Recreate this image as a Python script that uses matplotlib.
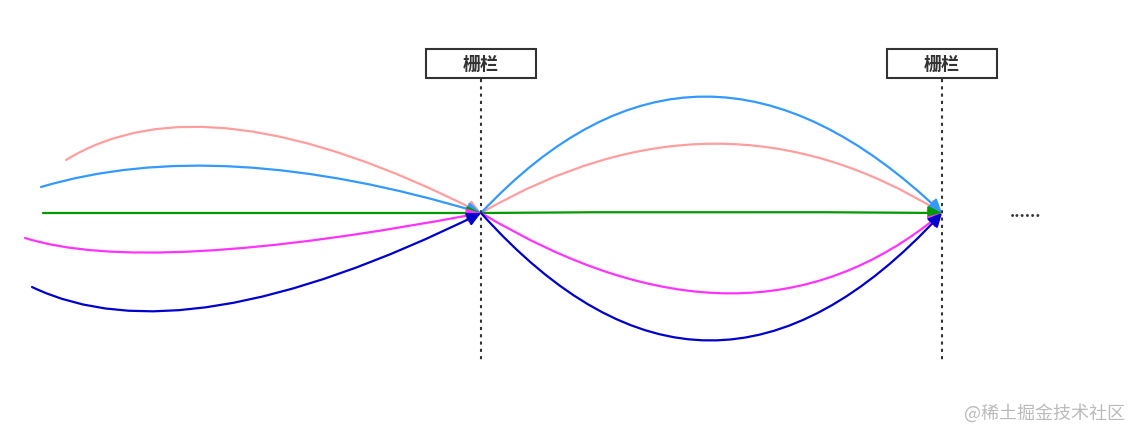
import matplotlib
matplotlib.use("Agg")
import matplotlib.pyplot as plt
from matplotlib.patches import FancyArrowPatch, Rectangle
from matplotlib.path import Path

plt.rcParams['font.family'] = ['Noto Sans CJK SC', 'DejaVu Sans']

barrier_x = [481, 942]
barrier_label = "栅栏"
colors = ['#ff9e9e', '#3399ff', '#009900', '#ff33ff', '#0000cc']
# left segment: start point and apex (curve point at t=0.5)
left_start = [(66, 160), (41, 187), (43, 213), (25, 238), (32, 287)]
left_mid = [(240, 130), (240, 167), (260, 213), (200, 251), (220, 305)]
# right segment apex
right_mid = [(715, 144), (705, 97), (711, 212), (730, 293), (710, 340)]
target_y = 213

fig = plt.figure(figsize=(11.31, 4.30), dpi=100)
ax = fig.add_axes([0, 0, 1, 1])
ax.set_xlim(0, 1131)
ax.set_ylim(430, 0)
ax.axis('off')

def curve(p0, m, p2, c):
    cx = 2 * m[0] - (p0[0] + p2[0]) / 2
    cy = 2 * m[1] - (p0[1] + p2[1]) / 2
    path = Path([p0, (cx, cy), p2], [Path.MOVETO, Path.CURVE3, Path.CURVE3])
    ax.add_patch(FancyArrowPatch(path=path, arrowstyle='-|>,head_length=8,head_width=4',
                                 color=c, lw=1.6, shrinkA=0, shrinkB=0))

for s, m, c in zip(left_start, left_mid, colors):
    curve(s, m, (barrier_x[0], target_y), c)
for m, c in zip(right_mid, colors):
    curve((barrier_x[0], target_y), m, (barrier_x[1], target_y), c)

for bx in barrier_x:
    ax.plot([bx, bx], [79, 362], color='#333333', lw=1.5, ls=(0, (1.5, 2)))
    ax.add_patch(Rectangle((bx - 55, 49), 110, 29, fill=False, ec='#333333', lw=1.5))
    ax.text(bx, 64, barrier_label, ha='center', va='center', fontsize=13,
            fontweight='bold', color='#333333')

ax.text(1026, 212, "......", ha='center', va='center', fontsize=12,
        fontweight='bold', color='#333333')
ax.text(1125, 413, "@稀土掘金技术社区", ha='right', va='center', fontsize=13,
        color='#bbbbbb')

fig.savefig("out.png", dpi=100)
